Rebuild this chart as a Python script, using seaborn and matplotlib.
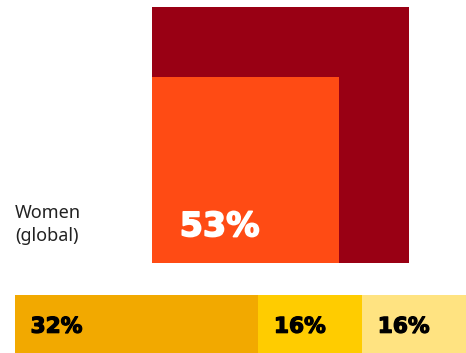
import matplotlib
matplotlib.use("Agg")
import matplotlib.pyplot as plt
import matplotlib.patheffects as pe
import seaborn as sns
import numpy as np

# ---- data ----
group_lines = ["Women", "(global)"]
square_total = 100
square_value = 53
square_text = "53%"
seg_labels = ["32%", "16%", "16%"]
seg_extent = [37.5, 16, 16]          # relative bar lengths as drawn
seg_colors = ["#F2A900", "#FFCC00", "#FFE381"]
dark_red = "#990014"
orange = "#FF4B14"

sns.set_theme(style="white")
plt.rcParams['font.family'] = ['Noto Sans', 'DejaVu Sans']

W, H = 466, 353
fig = plt.figure(figsize=(W / 100, H / 100), dpi=100)


def px(x0, y0, w, h):
    return [x0 / W, 1 - (y0 + h) / H, w / W, h / H]


# ---- squares (area proportional to share) ----
ax_sq = fig.add_axes(px(152, 7, 257, 256))
side_total = np.sqrt(square_total)
side_val = np.sqrt(square_value)
ax_sq.bar(0, side_total, width=side_total, align='edge', color=dark_red, linewidth=0)
ax_sq.bar(0, side_val, width=side_val, align='edge', color=orange, linewidth=0)
ax_sq.set_xlim(0, side_total)
ax_sq.set_ylim(0, side_total)
ax_sq.axis('off')
ax_sq.text(1.08, 1.05, square_text, color="white", fontsize=24, fontweight="bold",
           family=["DejaVu Sans"], ha="left", va="baseline",
           path_effects=[pe.withStroke(linewidth=1.2, foreground="white")])

for k, line in enumerate(group_lines):
    fig.text(15 / W, 1 - (218 + 23 * k) / H, line, fontsize=13, color="#222222",
             ha="left", va="baseline")

# ---- stacked bar ----
ax_bar = fig.add_axes(px(15, 295, 451, 58))
cum = np.cumsum(seg_extent)
for i in reversed(range(len(seg_extent))):
    sns.barplot(x=[cum[i]], y=["Women"], orient="h", color=seg_colors[i], width=1,
                saturation=1, linewidth=0, ax=ax_bar)
ax_bar.set_xlim(0, cum[-1])
ax_bar.set_ylim(0.5, -0.5)
ax_bar.axis('off')
starts = np.concatenate([[0], cum[:-1]])
for s, lab in zip(starts, seg_labels):
    ax_bar.text(s + 2.4, 0.15, lab, color="black", fontsize=15.6, fontweight="bold",
                family=["DejaVu Sans"], ha="left", va="baseline",
                path_effects=[pe.withStroke(linewidth=0.9, foreground="black")])

fig.savefig("out.png", dpi=100)
